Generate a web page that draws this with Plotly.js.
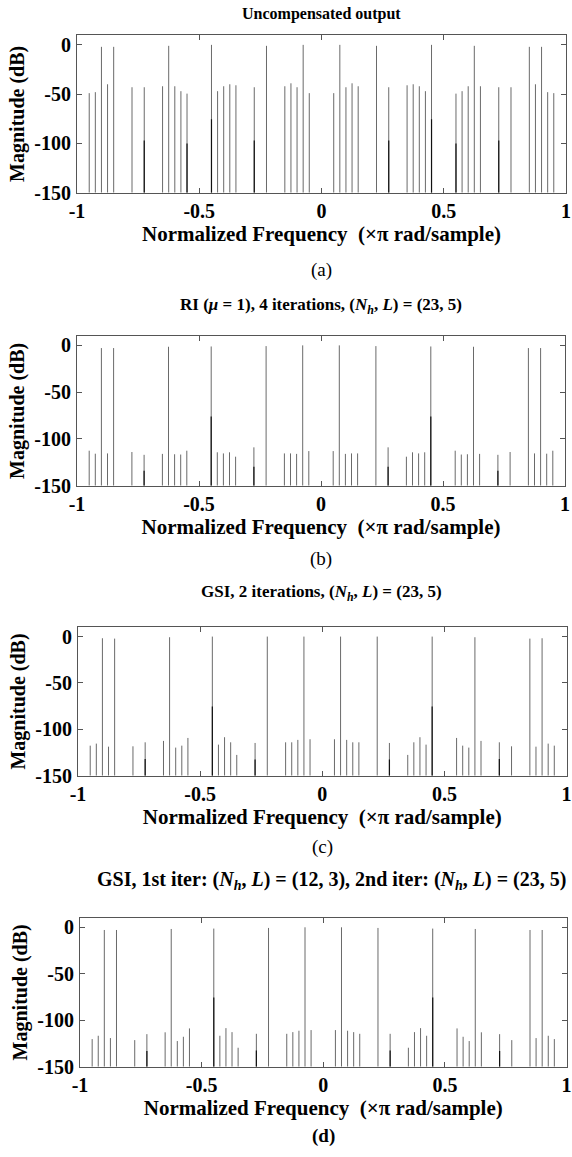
<!DOCTYPE html>
<html><head><meta charset="utf-8">
<script src="https://cdn.plot.ly/plotly-3.0.1.min.js"></script>
<style>html,body{margin:0;padding:0;background:#fff;}#chart{width:572px;height:1157px;}</style>
</head><body><div id="chart"></div>
<script>
const freqs = [-0.95,-0.925,-0.9,-0.875,-0.85,-0.775,-0.725,-0.65,-0.625,-0.6,-0.575,-0.55,-0.45,-0.425,-0.4,-0.375,-0.35,-0.275,-0.225,-0.15,-0.125,-0.1,-0.075,-0.05,
  0.05,0.075,0.1,0.125,0.15,0.225,0.275,0.35,0.375,0.4,0.425,0.45,0.55,0.575,0.6,0.625,0.65,0.725,0.775,0.85,0.875,0.9,0.925,0.95];

const magA = [-49,-48,-2,-40,-2,-43,-43,-42,-1,-42,-47,-49.5,0,-47,-42,-40,-41,-43,-1,-42,-39,-43,0,-49,
  -49,0,-43,-39,-42,-1,-43,-41,-40,-42,-47,0,-49.5,-47,-42,-1,-42,-43,-43,-2,-40,-2,-48,-49];
const magB = [-112.6,-115.8,-2.9,-115.5,-2.9,-114,-117,-116,-1.5,-116.4,-116.7,-112.6,-1.2,-114.3,-115.5,-114.3,-119,-109,-0.8,-115.5,-115.5,-116,0,-113,
  -113,0,-116,-115.5,-115.5,-0.8,-109,-119,-114.3,-115.5,-114.3,-1.2,-112.6,-116.7,-116.4,-1.5,-116,-117,-114,-2.9,-115.5,-2.9,-115.8,-112.6];
const magC = [-117.6,-115.4,-1.8,-118.7,-2.2,-118.3,-114,-112.5,-0.7,-119.7,-117.6,-109.3,0,-116.5,-108.5,-114,-127.6,-114.7,0,-114,-114,-111.4,0,-110.7,
  -110.7,0,-111.4,-114,-114,0,-114.7,-127.6,-114,-108.5,-116.5,0,-109.3,-117.6,-119.7,-0.7,-112.5,-114,-118.3,-2.2,-118.7,-1.8,-115.4,-117.6];
const magD = [-120.3,-116.7,-2.9,-119.2,-2.9,-121.4,-115,-113,-1.8,-122.4,-117.8,-108.8,-1.4,-116.7,-108.5,-112.8,-129.6,-114.6,-0.7,-114.6,-112.8,-111.3,0,-110.6,
  -110.6,0,-111.3,-112.8,-114.6,-0.7,-114.6,-129.6,-112.8,-108.5,-116.7,-1.4,-108.8,-117.8,-122.4,-1.8,-113,-115,-121.4,-2.9,-119.2,-2.9,-116.7,-120.3];

const darkFreqsA = [-0.725,-0.55,-0.45,-0.275,0.275,0.45,0.55,0.725];
const darkA = [-97,-100,-75.5,-97,-97,-75.5,-100,-97];
const darkFreqs = [-0.725,-0.45,-0.275,0.275,0.45,0.725];
const darkB = [-134,-76,-129.7,-129.7,-76,-134];
const darkC = [-132,-75.5,-132.4,-132.4,-75.5,-132];
const darkD = [-133,-75.5,-132.5,-132.5,-75.5,-133];

const xTickVals = [-1,-0.5,0,0.5,1];
const xTickText = ['-1','-0.5','0','0.5','1'];
const yTickVals = [-150,-100,-50,0];
const yTickText = ['-150','-100','-50','0'];

const titles = [
  '<b>Uncompensated output</b>',
  '<b>RI (<i>μ</i> = 1), 4 iterations, (<i>N</i><sub><i>h</i></sub>, <i>L</i>) = (23, 5)</b>',
  '<b>GSI, 2 iterations, (<i>N</i><sub><i>h</i></sub>, <i>L</i>) = (23, 5)</b>',
  '<b>GSI, 1st iter: (<i>N</i><sub><i>h</i></sub>, <i>L</i>) = (12, 3), 2nd iter: (<i>N</i><sub><i>h</i></sub>, <i>L</i>) = (23, 5)</b>'
];
const letters = ['(a)','(b)','(c)','<b>(d)</b>'];
const xLabel = '<b>Normalized Frequency  (×π rad/sample)</b>';
const yLabel = '<b>Magnitude (dB)</b>';

const BASE = -150;
function stems(fx, vals, axIdx, color, width){
  const x=[], y=[];
  fx.forEach((f,i)=>{ x.push(f,f,null); y.push(BASE, vals[i], null); });
  const s = axIdx===1 ? '' : String(axIdx);
  return {x:x, y:y, type:'scatter', mode:'lines', line:{color:color, width:width},
          xaxis:'x'+s, yaxis:'y'+s, hoverinfo:'skip', showlegend:false};
}

const W=572, H=1157;
// pixel boxes [left, right, top, bottom]
const boxes = [[77,566,35,192.7],[77,565,336,485.7],[78,566.5,627.3,775.7],[80,566.5,918,1066.7]];
const titleY = [14, 306, 593, 880];
const titleX = [321, 321, 321, 331];
const titleSize = [16, 17, 17, 20];
const letterY = [270, 559, 847, 1136];

const mains = [magA, magB, magC, magD];
const darks = [[darkFreqsA,darkA],[darkFreqs,darkB],[darkFreqs,darkC],[darkFreqs,darkD]];
const data = [];
mains.forEach((m,i)=>{ data.push(stems(freqs, m, i+1, '#6a6a6a', 1)); });
darks.forEach((d,i)=>{ data.push(stems(d[0], d[1], i+1, '#111111', 1.2)); });

const serif = '"Liberation Serif", "Times New Roman", serif';
const layout = {width:W, height:H, margin:{l:0,r:0,t:0,b:0}, paper_bgcolor:'#fff', plot_bgcolor:'#fff',
  showlegend:false, annotations:[]};

boxes.forEach((b,i)=>{
  const s = i===0 ? '' : String(i+1);
  layout['xaxis'+s] = {domain:[b[0]/W, b[1]/W], range:[-1,1], anchor:'y'+s,
    tickvals:xTickVals, ticktext:xTickText, ticks:'inside', ticklen:5, tickcolor:'#555',
    showline:true, mirror:'allticks', linecolor:'#555', linewidth:1, showgrid:false, zeroline:false,
    tickfont:{family:serif, size:20, color:'#000', weight:'bold'}, ticklabelstandoff:0, ticklabeloverflow:'allow',
    title:{text:xLabel, font:{family:serif, size:21, color:'#000'}, standoff:2}, fixedrange:true};
  layout['yaxis'+s] = {domain:[1-b[3]/H, 1-b[2]/H], range:[-150,10], anchor:'x'+s,
    tickvals:yTickVals, ticktext:yTickText, ticks:'inside', ticklen:5, tickcolor:'#555',
    showline:true, mirror:'allticks', linecolor:'#555', linewidth:1, showgrid:false, zeroline:false,
    tickfont:{family:serif, size:20, color:'#000', weight:'bold'}, ticklabelstandoff:1,
    title:{text:yLabel, font:{family:serif, size:20, color:'#000'}, standoff:4}, fixedrange:true};
  layout.annotations.push({text:titles[i], x:titleX[i]/W, y:1-titleY[i]/H, xref:'paper', yref:'paper',
    xanchor:'center', yanchor:'middle', showarrow:false, font:{family:serif, size:titleSize[i], color:'#000'}});
  layout.annotations.push({text:letters[i], x:(b[0]+b[1])/2/W, y:1-letterY[i]/H, xref:'paper', yref:'paper',
    xanchor:'center', yanchor:'middle', showarrow:false, font:{family:serif, size:19, color:'#000'}});
});

Plotly.newPlot('chart', data, layout, {displayModeBar:false, staticPlot:true});
</script></body></html>
